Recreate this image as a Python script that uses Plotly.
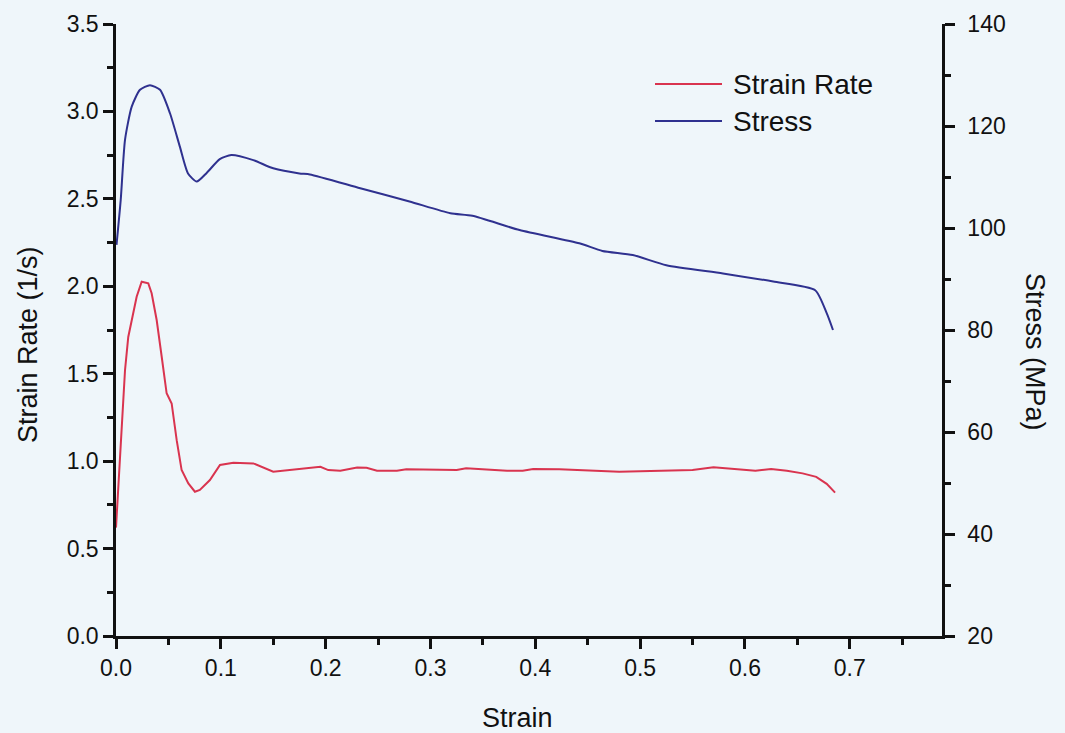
import plotly.graph_objects as go

# Strain rate history (1/s) against strain
rate_strain = [0.000, 0.0054, 0.0086, 0.0117, 0.016, 0.0197, 0.0245, 0.0308, 0.034, 0.0388,
               0.0436, 0.0483, 0.0531, 0.0579, 0.0626, 0.069, 0.0753, 0.080, 0.0896, 0.0992,
               0.112, 0.118, 0.131, 0.150, 0.182, 0.195, 0.2025, 0.214, 0.230, 0.239,
               0.249, 0.268, 0.277, 0.325, 0.334, 0.373, 0.388, 0.398, 0.423, 0.45,
               0.48, 0.52, 0.55, 0.57, 0.59, 0.61, 0.625, 0.64, 0.655, 0.668,
               0.678, 0.686]
strain_rate = [0.62, 1.216, 1.52, 1.71, 1.845, 1.94, 2.026, 2.017, 1.96, 1.807,
               1.597, 1.388, 1.33, 1.12, 0.949, 0.873, 0.825, 0.835, 0.892, 0.978,
               0.991, 0.991, 0.987, 0.940, 0.959, 0.968, 0.949, 0.945, 0.964, 0.962,
               0.945, 0.945, 0.953, 0.949, 0.959, 0.945, 0.945, 0.955, 0.953, 0.945,
               0.94, 0.945, 0.95, 0.965, 0.955, 0.945, 0.955, 0.945, 0.93, 0.91,
               0.87, 0.82]

# Flow stress (MPa) against strain
stress_strain = [0.0005, 0.0045, 0.0086, 0.015, 0.0229, 0.0324, 0.042, 0.0515, 0.061, 0.0687,
                 0.077, 0.0865, 0.099, 0.110, 0.131, 0.150, 0.175, 0.185, 0.233, 0.280,
                 0.319, 0.340, 0.385, 0.442, 0.464, 0.493, 0.525, 0.579, 0.627, 0.667,
                 0.678, 0.684]
stress = [96.7, 105.5, 117.3, 123.8, 127.1, 128.0, 127.1, 122.5, 115.9, 110.7,
          109.1, 110.8, 113.5, 114.3, 113.3, 111.7, 110.7, 110.5, 107.8, 105.2,
          102.9, 102.4, 99.6, 97.0, 95.5, 94.7, 92.7, 91.1, 89.5, 87.8,
          83.3, 80.0]

x_ticks = [0.0, 0.1, 0.2, 0.3, 0.4, 0.5, 0.6, 0.7]
rate_ticks = [0.0, 0.5, 1.0, 1.5, 2.0, 2.5, 3.0, 3.5]
stress_ticks = [20, 40, 60, 80, 100, 120, 140]

RED = "#d9344f"
BLUE = "#2f318f"
INK = "#111111"
BG = "#eff6fa"
FONT = "Liberation Sans, Arial, sans-serif"

fig = go.Figure()
fig.add_trace(go.Scatter(x=rate_strain, y=strain_rate, mode="lines", name="Strain Rate",
                         line=dict(color=RED, width=2), showlegend=False))
fig.add_trace(go.Scatter(x=stress_strain, y=stress, mode="lines", name="Stress", yaxis="y2",
                         line=dict(color=BLUE, width=2, shape="spline", smoothing=0.6),
                         showlegend=False))

axis_common = dict(showgrid=False, zeroline=False, showline=True, linecolor=INK, linewidth=2.5,
                   ticks="outside", ticklen=10, tickwidth=2.5, tickcolor=INK,
                   tickfont=dict(size=23, color=INK, family=FONT))

fig.update_layout(
    width=1065, height=733,
    margin=dict(l=116, r=123, t=24, b=97),
    paper_bgcolor=BG, plot_bgcolor=BG,
    font=dict(family=FONT, color=INK),
    xaxis=dict(range=[0, 0.788], tickvals=x_ticks, ticktext=[f"{v:.1f}" for v in x_ticks],
               minor=dict(dtick=0.05, tick0=0, ticks="outside", ticklen=6, tickwidth=2.5,
                          tickcolor=INK),
               **axis_common),
    yaxis=dict(range=[0, 3.5], tickvals=rate_ticks, ticktext=[f"{v:.1f}" for v in rate_ticks],
               minor=dict(dtick=0.25, tick0=0, ticks="outside", ticklen=6, tickwidth=2.5,
                          tickcolor=INK),
               **axis_common),
    yaxis2=dict(range=[20, 140], overlaying="y", side="right", tickvals=stress_ticks,
                ticklabelstandoff=8,
                minor=dict(dtick=10, tick0=20, ticks="outside", ticklen=6, tickwidth=2.5,
                           tickcolor=INK),
                **axis_common),
    showlegend=False,
)

# Axis titles
fig.add_annotation(text="Strain", xref="paper", yref="paper", x=(517 - 116) / 826,
                   y=-(718 - 636) / 612, xanchor="center", yanchor="middle",
                   showarrow=False, font=dict(size=27, color=INK))
fig.add_annotation(text="Strain Rate (1/s)", xref="paper", yref="paper", x=(28 - 116) / 826,
                   y=(636 - 345) / 612, xanchor="center", yanchor="middle", textangle=-90,
                   showarrow=False, font=dict(size=27, color=INK))
fig.add_annotation(text="Stress (MPa)", xref="paper", yref="paper", x=(1035 - 116) / 826,
                   y=(636 - 352) / 612, xanchor="center", yanchor="middle", textangle=90,
                   showarrow=False, font=dict(size=27, color=INK))

# Legend
legend_items = [("Strain Rate", RED, 84), ("Stress", BLUE, 121)]
for label, color, py in legend_items:
    yp = (636 - py) / 612
    fig.add_shape(type="line", xref="paper", yref="paper", x0=(655 - 116) / 826,
                  x1=(722 - 116) / 826, y0=yp, y1=yp, line=dict(color=color, width=2))
    fig.add_annotation(text=label, xref="paper", yref="paper", x=(731 - 116) / 826, y=yp,
                       xanchor="left", yanchor="middle", showarrow=False,
                       font=dict(size=28, color=INK))

fig.write_html("out.html")
